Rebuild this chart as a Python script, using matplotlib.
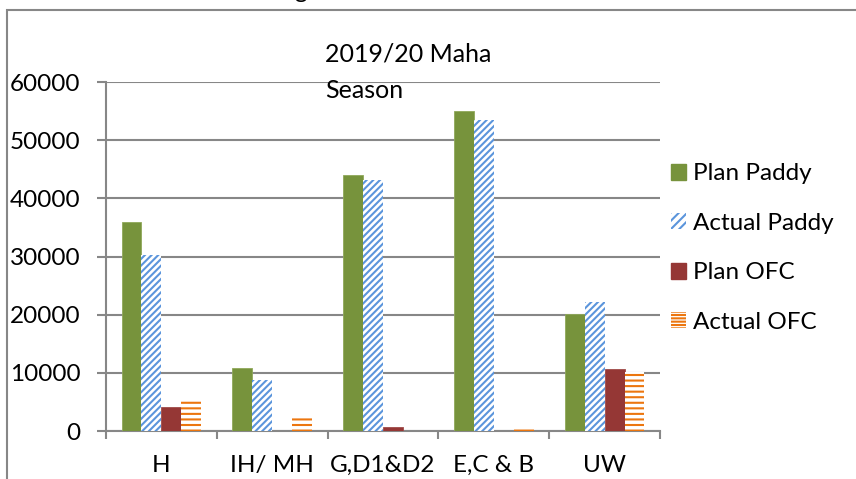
import matplotlib.pyplot as plt
import matplotlib.patches as mpatches
import numpy as np

plt.rcParams['font.family'] = ['Lato', 'DejaVu Sans']
plt.rcParams['hatch.linewidth'] = 1.5

categories = ['H', 'IH/ MH', 'G,D1&D2', 'E,C & B', 'UW']
plan_paddy = [36000, 10900, 44000, 55000, 20200]
actual_paddy = [30300, 8800, 43200, 53500, 22200]
plan_ofc = [4100, 0, 700, 0, 10600]
actual_ofc = [5300, 2400, 0, 600, 10100]
yticks = [0, 10000, 20000, 30000, 40000, 50000, 60000]

FS = 17.5
GREY = '#878787'

def main():
    fig = plt.figure(figsize=(8.56, 4.79), dpi=100)
    ax = fig.add_axes([106 / 856, 1 - 431 / 479, 554 / 856, 349 / 479])

    x = np.arange(len(categories))
    w = 0.18
    ax.bar(x - 1.5 * w, plan_paddy, w, color='#77933c', edgecolor='#8fa85a', linewidth=0.6,
           label='Plan Paddy', zorder=3)
    ax.bar(x - 0.5 * w, actual_paddy, w, color='white', edgecolor='#5b95dc', hatch='/////',
           linewidth=0, label='Actual Paddy', zorder=3)
    ax.bar(x + 0.5 * w, plan_ofc, w, color='#953735', edgecolor='#a04a48', linewidth=0.6,
           label='Plan OFC', zorder=3)
    ax.bar(x + 1.5 * w, actual_ofc, w, color='white', edgecolor='#ec760f', hatch='---',
           linewidth=0, label='Actual OFC', zorder=3)

    ax.set_xlim(-0.5, len(categories) - 0.5)
    ax.set_ylim(0, 60000)
    ax.set_yticks(yticks)
    ax.set_yticklabels([str(v) for v in yticks], fontsize=FS)
    ax.set_xticks(x)
    ax.set_xticklabels(categories, fontsize=FS)
    ax.set_xticks(np.arange(len(categories) + 1) - 0.5, minor=True)
    ax.tick_params(axis='x', which='major', length=0, pad=17)
    ax.tick_params(axis='x', which='minor', length=6, width=1.5, color=GREY)
    ax.tick_params(axis='y', length=6.5, width=1.5, color=GREY, pad=12)
    ax.yaxis.grid(True, color=GREY, linewidth=1.5, zorder=0)
    ax.set_axisbelow(True)
    for s in ['top', 'right']:
        ax.spines[s].set_visible(False)
    for s in ['left', 'bottom']:
        ax.spines[s].set_color(GREY)
        ax.spines[s].set_linewidth(1.5)

    # title sits inside the plot area, wrapped over two lines
    fig.text(325 / 856, 1 - 54 / 479, '2019/20 Maha', fontsize=18, va='center', ha='left')
    fig.text(325 / 856, 1 - 91 / 479, 'Season', fontsize=18, va='center', ha='left')

    # legend
    handles = [
        mpatches.Patch(facecolor='#77933c', edgecolor='#77933c', label='Plan Paddy'),
        mpatches.Patch(facecolor='white', edgecolor='#5b95dc', hatch='////', linewidth=0, label='Actual Paddy'),
        mpatches.Patch(facecolor='#953735', edgecolor='#953735', label='Plan OFC'),
        mpatches.Patch(facecolor='white', edgecolor='#ec760f', hatch='-----', linewidth=0, label='Actual OFC'),
    ]
    fig.legend(handles=handles, loc='center left', bbox_to_anchor=(671 / 856, 1 - 248 / 479),
               frameon=False, fontsize=FS, handlelength=0.62, handleheight=0.62,
               handletextpad=0.3, labelspacing=1.17, borderpad=0, borderaxespad=0)

    # outer frame of the chart object
    fig.add_artist(mpatches.Rectangle((7.5 / 856, -0.1), 1.0, 1 - 10 / 479 + 0.1,
                                      transform=fig.transFigure, fill=False,
                                      edgecolor=GREY, linewidth=1.5))
    # clipped caption above the chart
    fig.text(294 / 856, 1 + 2 / 479, 'g', fontsize=FS, va='baseline', ha='left')

    fig.savefig('out.png', dpi=100)

if __name__ == '__main__':
    main()
